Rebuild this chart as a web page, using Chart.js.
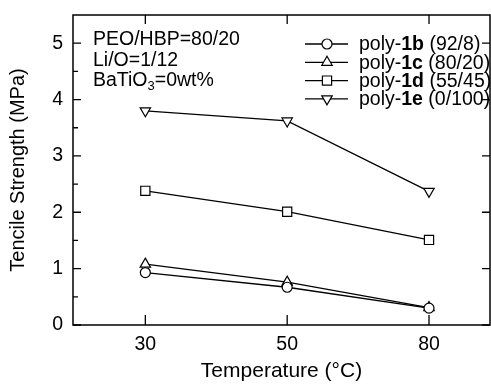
<!DOCTYPE html>
<html>
<head>
<meta charset="utf-8">
<script src="https://cdn.jsdelivr.net/npm/chart.js@4/dist/chart.umd.min.js"></script>
<style>
  html, body { margin: 0; padding: 0; background: #fff; }
  #wrap { width: 491px; height: 387px; }
</style>
</head>
<body>
<div id="wrap"><canvas id="myChart" width="491" height="387"></canvas></div>
<script>
const temps = ['30', '50', '80']
const yTicks = [0, 1, 2, 3, 4, 5]
const poly1b = [0.93, 0.67, 0.30]
const poly1c = [1.08, 0.76, 0.31]
const poly1d = [2.38, 2.01, 1.51]
const poly1e = [3.80, 3.62, 2.37]
const seriesNames = ['1b', '1c', '1d', '1e']
const seriesRatios = ['(92/8)', '(80/20)', '(55/45)', '(0/100)']
const noteLines = ['PEO/HBP=80/20', 'Li/O=1/12', 'BaTiO']

const FONT = '"Liberation Sans", Arial, sans-serif'
const TXT = 19.5
const toPts = arr => arr.map((v, i) => ({ x: i, y: v }))

const markers = [
  { pointStyle: 'circle', radius: 5, rotation: 0 },
  { pointStyle: 'triangle', radius: 6, rotation: 0 },
  { pointStyle: 'rect', radius: 6.5, rotation: 0 },
  { pointStyle: 'triangle', radius: 6, rotation: 180 }
]

const mkSet = (data, m) => ({
  data: toPts(data),
  borderColor: '#000',
  borderWidth: 1.3,
  pointStyle: m.pointStyle,
  pointRadius: m.radius,
  pointRotation: m.rotation,
  pointBackgroundColor: '#fff',
  pointBorderColor: '#000',
  pointBorderWidth: 1.2,
  fill: false
})

// ***** frame, inward ticks, legend and note *****
const decor = {
  id: 'decor',
  afterDraw(chart) {
    const { ctx, chartArea: a, scales } = chart
    const xs = scales.x, ys = scales.y
    ctx.save()
    ctx.strokeStyle = '#000'
    ctx.lineWidth = 1.5
    ctx.strokeRect(a.left, a.top, a.right - a.left, a.bottom - a.top)

    ctx.lineWidth = 1.3
    ctx.beginPath()
    for (let v = 0; v <= 5; v += 0.5) {
      const y = ys.getPixelForValue(v)
      const major = Number.isInteger(v)
      ctx.moveTo(a.left, y); ctx.lineTo(a.left + (major ? 8 : 5), y)
      if (major) { ctx.moveTo(a.right, y); ctx.lineTo(a.right - 8, y) }
    }
    temps.forEach((t, i) => {
      const x = xs.getPixelForValue(i)
      ctx.moveTo(x, a.bottom); ctx.lineTo(x, a.bottom - 10)
      ctx.moveTo(x, a.top); ctx.lineTo(x, a.top + 9)
    })
    ctx.stroke()

    // note, top left
    ctx.fillStyle = '#000'
    ctx.textBaseline = 'middle'
    ctx.textAlign = 'left'
    ctx.font = TXT + 'px ' + FONT
    const nx = a.left + 20
    ctx.fillText(noteLines[0], nx, 40)
    ctx.fillText(noteLines[1], nx, 61)
    ctx.fillText(noteLines[2], nx, 81)
    let w = ctx.measureText(noteLines[2]).width
    ctx.font = '13px ' + FONT
    ctx.fillText('3', nx + w, 86)
    w += ctx.measureText('3').width
    ctx.font = TXT + 'px ' + FONT
    ctx.fillText('=0wt%', nx + w, 81)

    // legend, top right
    chart.data.datasets.forEach((ds, i) => {
      const y = 44 + i * 18.3
      ctx.strokeStyle = '#000'
      ctx.lineWidth = 1.3
      ctx.beginPath(); ctx.moveTo(305, y); ctx.lineTo(348, y); ctx.stroke()
      ctx.fillStyle = '#fff'
      ctx.lineWidth = 1.2
      const m = markers[i]
      Chart.helpers.drawPoint(ctx, { pointStyle: m.pointStyle, radius: m.radius, rotation: m.rotation, borderWidth: 1.2 }, 327, y)
      ctx.fillStyle = '#000'
      let x = 359
      ctx.font = TXT + 'px ' + FONT
      ctx.fillText('poly-', x, y + 1)
      x += ctx.measureText('poly-').width
      ctx.font = 'bold ' + TXT + 'px ' + FONT
      ctx.fillText(seriesNames[i], x, y + 1)
      x += ctx.measureText(seriesNames[i] + ' ').width
      ctx.font = TXT + 'px ' + FONT
      ctx.fillText(seriesRatios[i], x, y + 1)
    })
    ctx.restore()
  }
}

const ctx = document.getElementById('myChart').getContext('2d')
const myChart = new Chart(ctx, {
  type: 'line',
  data: {
    datasets: [
      mkSet(poly1b, markers[0]),
      mkSet(poly1c, markers[1]),
      mkSet(poly1d, markers[2]),
      mkSet(poly1e, markers[3])
    ]
  },
  options: {
    responsive: false,
    animation: false,
    layout: { autoPadding: false, padding: { top: 15, right: 1, left: 0, bottom: 0 } },
    plugins: { legend: { display: false }, tooltip: { enabled: false } },
    scales: {
      x: {
        type: 'linear',
        min: -0.51,
        max: 2.43,
        afterBuildTicks: s => { s.ticks = temps.map((t, i) => ({ value: i })) },
        afterFit: s => { s.height = 62; s.paddingLeft = 0; s.paddingRight = 0 },
        ticks: {
          callback: v => temps[v],
          color: '#000',
          font: { family: FONT, size: TXT },
          padding: 8,
          maxRotation: 0
        },
        grid: { display: false, drawTicks: false },
        border: { display: false },
        title: {
          display: true,
          text: 'Temperature (°C)',
          color: '#000',
          font: { family: FONT, size: 21 },
          padding: { top: 0, bottom: 3 }
        }
      },
      y: {
        min: 0,
        max: 5.5,
        afterBuildTicks: s => { s.ticks = yTicks.map(v => ({ value: v })) },
        afterFit: s => { s.width = 73; s.paddingTop = 0; s.paddingBottom = 0 },
        ticks: {
          color: '#000',
          font: { family: FONT, size: TXT },
          padding: 10
        },
        grid: { display: false, drawTicks: false },
        border: { display: false },
        title: {
          display: true,
          text: 'Tencile Strength (MPa)',
          color: '#000',
          font: { family: FONT, size: 20 },
          padding: { top: 6, bottom: 0 }
        }
      }
    }
  },
  plugins: [decor]
})
</script>
</body>
</html>
